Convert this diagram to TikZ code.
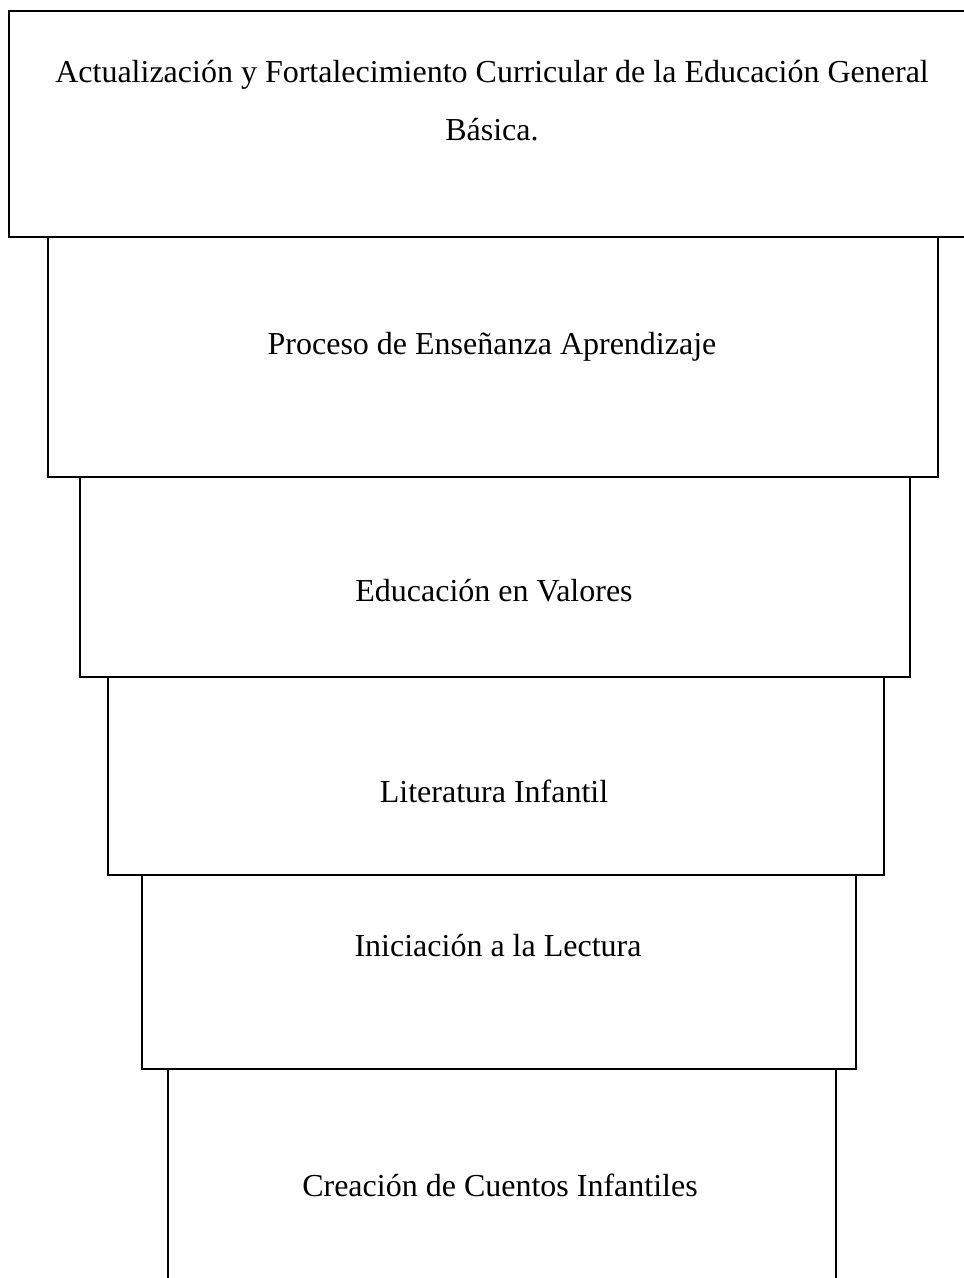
\documentclass[tikz,border=0pt]{standalone}
\usepackage{fontspec}
\setmainfont{Liberation Serif}
\begin{document}
\begin{tikzpicture}[x=1pt,y=-1pt,
    caja/.style={draw,line width=2pt,inner sep=0pt,anchor=north west},
    texto/.style={anchor=base,inner sep=0pt,align=center,
        font=\fontsize{32}{58}\selectfont}]
    \useasboundingbox (0,0) rectangle (964,1278);
    % escalones
    \node[caja,minimum width=962pt,minimum height=226pt] (b1) at (8,10) {};
    \node[caja,minimum width=890pt,minimum height=240pt] (b2) at (47,236) {};
    \node[caja,minimum width=830pt,minimum height=200pt] (b3) at (79,476) {};
    \node[caja,minimum width=776pt,minimum height=198pt] (b4) at (107,676) {};
    \node[caja,minimum width=714pt,minimum height=194pt] (b5) at (141,874) {};
    \node[caja,minimum width=668pt,minimum height=260pt] (b6) at (167,1068) {};
    % textos (base = ultima linea)
    \node[texto] (t1) at (492,140) {Actualización y Fortalecimiento Curricular de la Educación General\\Básica.};
    \node[texto] (t2) at (492,354) {Proceso de Enseñanza Aprendizaje};
    \node[texto] (t3) at (494,601) {Educación en Valores};
    \node[texto] (t4) at (494,802) {Literatura Infantil};
    \node[texto] (t5) at (498,956) {Iniciación a la Lectura};
    \node[texto] (t6) at (500,1196) {Creación de Cuentos Infantiles};
\end{tikzpicture}
\end{document}
